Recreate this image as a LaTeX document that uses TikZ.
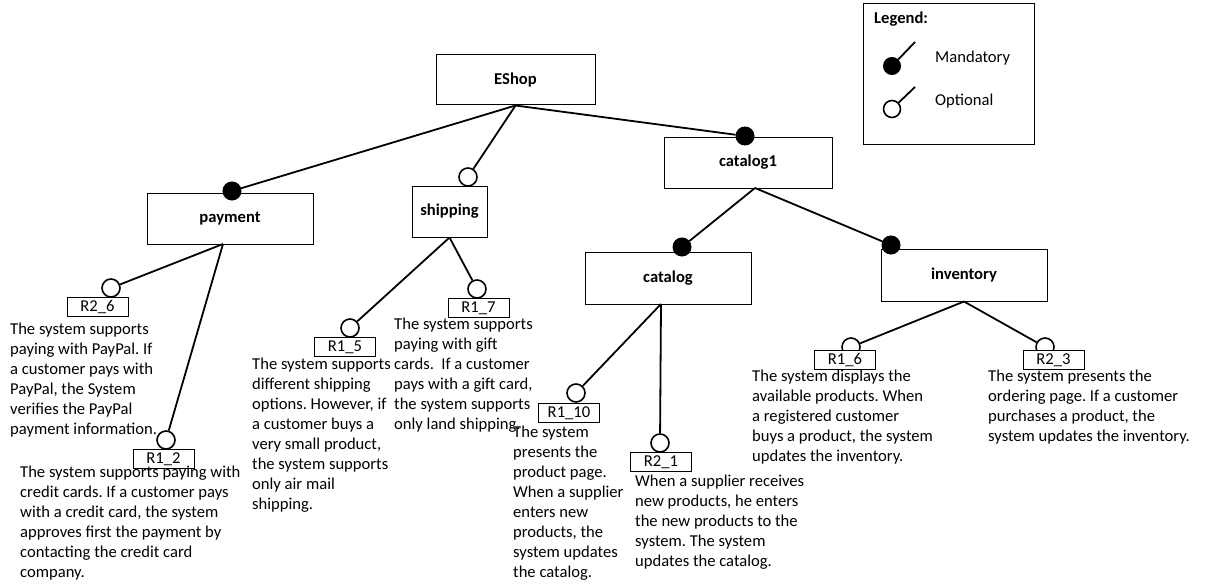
\documentclass[tikz,border=0pt]{standalone}
\usepackage{fontspec}
\setmainfont{Carlito}
\usetikzlibrary{calc}
\frenchspacing
\begin{document}
\begin{tikzpicture}[x=1pt,y=-1pt,
  every node/.style={font=\fontsize{16.6}{20}\selectfont},
  feat/.style={draw, line width=1pt, fill=white, inner sep=0pt,
    font=\fontsize{16.6}{20}\selectfont\bfseries},
  req/.style={draw, line width=1pt, fill=white, inner sep=0pt,
    minimum width=61pt, minimum height=19pt},
  mand/.style={circle, draw, fill=black, line width=1pt, inner sep=0pt, minimum size=18pt},
  opt/.style={circle, draw, fill=white, line width=1.6pt, inner sep=0pt, minimum size=18pt},
  link/.style={line width=1.8pt},
  desc/.style={align=left, anchor=north west, inner sep=0pt}]
\useasboundingbox (0,0) rectangle (1206,583);

% legend
\node[draw, line width=1pt, minimum width=171pt, minimum height=140pt, inner sep=0pt] (legend) at (948.5,74) {};
\node[anchor=west, inner sep=0pt, font=\fontsize{16.6}{20}\selectfont\bfseries] (legtitle) at (874,19) {Legend:};
\coordinate (lmtip) at (915,42);
\coordinate (lotip) at (915,87);
\node[mand, minimum size=17pt] (lm) at (892,66) {};
\node[opt, minimum size=17pt] (lo) at (892,109) {};
\draw[link] (lm) -- (lmtip);
\draw[link] (lo) -- (lotip);
\node[anchor=west, inner sep=0pt] (lmtext) at (935,58) {Mandatory};
\node[anchor=west, inner sep=0pt] (lotext) at (935,101) {Optional};

% feature boxes
\node[feat, minimum width=159pt, minimum height=50pt] (eshop) at (515.5,80) {EShop};
\node[feat, minimum width=168pt, minimum height=51pt] (catalog1) at (748,162.5) {catalog1};
\node[feat, minimum width=166pt, minimum height=51pt] (payment) at (230,218.5) {payment};
\node[feat, minimum width=75pt, minimum height=51pt] (shipping) at (449.5,211.5) {shipping};
\node[feat, minimum width=166pt, minimum height=52pt] (catalog) at (668,278) {catalog};
\node[feat, minimum width=166pt, minimum height=52pt] (inventory) at (964,275) {inventory};

% branching points on the lower edges
\coordinate (payfork) at (223,244);
\coordinate (cat1fork) at (755,188);
\coordinate (catfork) at (661,304);

% feature markers
\node[mand] (mpay) at (232,191) {};
\node[opt] (oship) at (468,177) {};
\node[mand] (mcat1) at (745,136) {};
\node[mand] (mcat) at (682,247) {};
\node[mand] (minv) at (891,245) {};

% requirement markers
\node[opt] (o26) at (111,288) {};
\node[opt] (o12) at (166,440) {};
\node[opt] (o15) at (350,328) {};
\node[opt] (o17) at (477,289) {};
\node[opt] (o110) at (576,393) {};
\node[opt] (o21) at (660,443) {};
\node[opt] (o16) at (851,347) {};
\node[opt] (o23) at (1045,347) {};

% connectors
\draw[link] (eshop.south) -- (mpay);
\draw[link] (eshop.south) -- (oship);
\draw[link] (eshop.south) -- (mcat1);
\draw[link] (cat1fork) -- (mcat);
\draw[link] (cat1fork) -- (minv);
\draw[link] (payfork) -- (o26);
\draw[link] (payfork) -- (o12);
\draw[link] (shipping.south) -- (o15);
\draw[link] (shipping.south) -- (o17);
\draw[link] (catfork) -- (o110);
\draw[link] (catfork) -- (o21);
\draw[link] (inventory.south) -- (o16);
\draw[link] (inventory.south) -- (o23);

% requirement boxes
\node[req] (r26) at (97.5,307) {R2\_6};
\node[req] (r12) at (163.5,459) {R1\_2};
\node[req] (r15) at (345,347) {R1\_5};
\node[req] (r17) at (478.5,308) {R1\_7};
\node[req] (r110) at (569,413) {R1\_10};
\node[req] (r21) at (661,462) {R2\_1};
\node[req] (r16) at (845,360) {R1\_6};
\node[req] (r23) at (1053.5,360) {R2\_3};

% requirement descriptions
\node[desc] (t26) at (10,323) {The system supports\\paying with PayPal. If\\a customer pays with\\PayPal, the System\\verifies the PayPal\\payment information.};
\node[desc] (t12) at (20,466) {The system supports paying with\\credit cards. If a customer pays\\with a credit card, the system\\approves first the payment by\\contacting the credit card\\company.};
\node[desc] (t15) at (252,358) {The system supports\\different shipping\\options. However, if\\a customer buys a\\very small product,\\the system supports\\only air mail\\shipping.};
\node[desc] (t17) at (394,318) {The system supports\\paying with gift\\cards.\ \ If a customer\\pays with a gift card,\\the system supports\\only land shipping.};
\node[desc] (t110) at (513,426) {The system\\presents the\\product page.\\When a supplier\\enters new\\products, the\\system updates\\the catalog.};
\node[desc] (t21) at (635,475) {When a supplier receives\\new products, he enters\\the new products to the\\system. The system\\updates the catalog.};
\node[desc] (t16) at (752,370) {The system displays the\\available products. When\\a registered customer\\buys a product, the system\\updates the inventory.};
\node[desc] (t23) at (988,370) {The system presents the\\ordering page. If a customer\\purchases a product, the\\system updates the inventory.};
\end{tikzpicture}
\end{document}
